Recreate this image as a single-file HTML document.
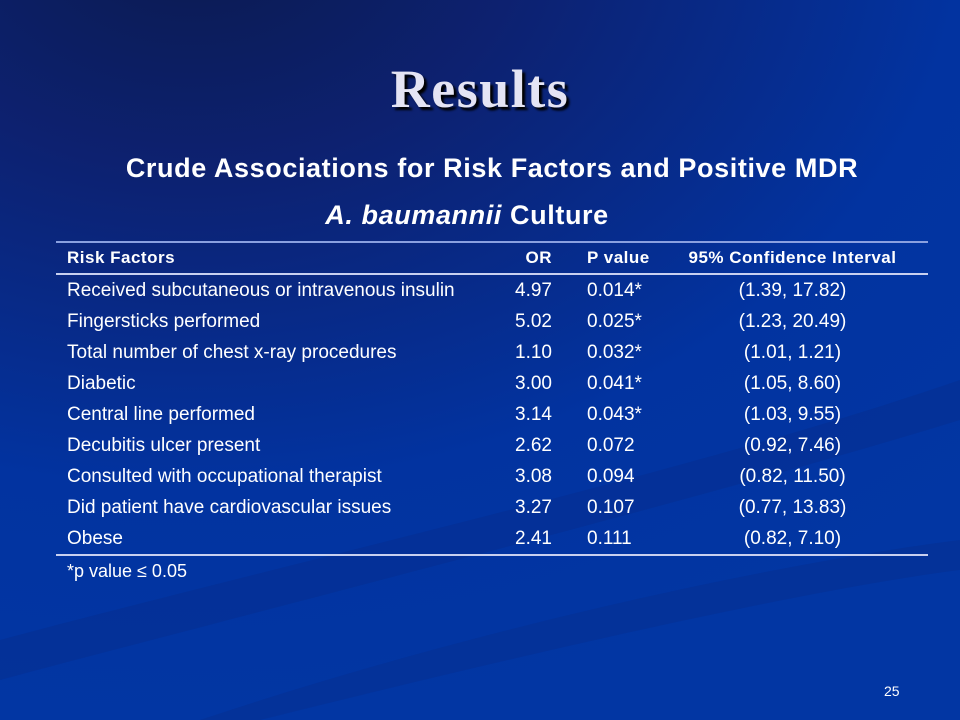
<!DOCTYPE html>
<html><head><meta charset="utf-8"><style>
body{margin:0;width:960px;height:720px;overflow:hidden;font-family:"Liberation Sans",sans-serif;}
#slide{position:relative;width:960px;height:720px;background:radial-gradient(ellipse 1100px 800px at 20% -10%,#0b1a4e 0%,#0d2170 30%,#0233a0 70%,#0236a3 100%);color:#fff;overflow:hidden}
.abs{position:absolute}
#title{left:0;width:960px;top:58px;text-align:center;font-family:"Liberation Serif",serif;font-weight:bold;font-size:54px;letter-spacing:1.5px;color:#e4e4f4;text-shadow:3px 3px 2px #000}
.sub{left:0;width:984px;text-align:center;font-weight:bold;font-size:27px;letter-spacing:0.6px}
table{position:absolute;left:56px;top:241px;width:872px;border-collapse:collapse;font-size:19px;border-top:2px solid #8aa0e0;border-bottom:2px solid #c8d0f0}
td,th{padding:0;height:31px;white-space:nowrap}
th{height:30px;font-weight:bold;border-bottom:2px solid #c8d0f0;font-size:17px;letter-spacing:0.5px}
.c1{padding-left:11px;text-align:left;width:430px}
.c2{text-align:right;width:55px;padding-right:0}
.c3{text-align:left;padding-left:35px;width:70px}
.c4{text-align:center}
</style></head><body>
<div id="slide">
<svg class="abs" style="left:0;top:0" width="960" height="720">
<path d="M0 640 C300 560 700 470 960 380 L960 420 C700 500 300 600 0 680Z" fill="#0a2a86" opacity="0.35"/>
<path d="M200 720 C500 620 800 560 960 540 L960 570 C800 590 500 660 260 720Z" fill="#0a2a86" opacity="0.3"/>
</svg>
<div id="title" class="abs">Results</div>
<div class="abs sub" style="top:153px">Crude Associations for Risk Factors and Positive MDR</div>
<div class="abs sub" style="top:200px;left:-25px"><i>A. baumannii</i> Culture</div>
<table>
<tr><th class="c1">Risk Factors</th><th class="c2">OR</th><th class="c3">P value</th><th class="c4">95% Confidence Interval</th></tr>
<tr><td class="c1">Received subcutaneous or intravenous insulin</td><td class="c2">4.97</td><td class="c3">0.014*</td><td class="c4">(1.39, 17.82)</td></tr>
<tr><td class="c1">Fingersticks performed</td><td class="c2">5.02</td><td class="c3">0.025*</td><td class="c4">(1.23, 20.49)</td></tr>
<tr><td class="c1">Total number of chest x-ray procedures</td><td class="c2">1.10</td><td class="c3">0.032*</td><td class="c4">(1.01, 1.21)</td></tr>
<tr><td class="c1">Diabetic</td><td class="c2">3.00</td><td class="c3">0.041*</td><td class="c4">(1.05, 8.60)</td></tr>
<tr><td class="c1">Central line performed</td><td class="c2">3.14</td><td class="c3">0.043*</td><td class="c4">(1.03, 9.55)</td></tr>
<tr><td class="c1">Decubitis ulcer present</td><td class="c2">2.62</td><td class="c3">0.072</td><td class="c4">(0.92, 7.46)</td></tr>
<tr><td class="c1">Consulted with occupational therapist</td><td class="c2">3.08</td><td class="c3">0.094</td><td class="c4">(0.82, 11.50)</td></tr>
<tr><td class="c1">Did patient have cardiovascular issues</td><td class="c2">3.27</td><td class="c3">0.107</td><td class="c4">(0.77, 13.83)</td></tr>
<tr><td class="c1">Obese</td><td class="c2">2.41</td><td class="c3">0.111</td><td class="c4">(0.82, 7.10)</td></tr>
</table>
<div class="abs" style="left:67px;top:561px;font-size:18px">*p value ≤ 0.05</div>
<div class="abs" style="left:884px;top:683px;font-size:14px">25</div>
</div>
</body></html>
